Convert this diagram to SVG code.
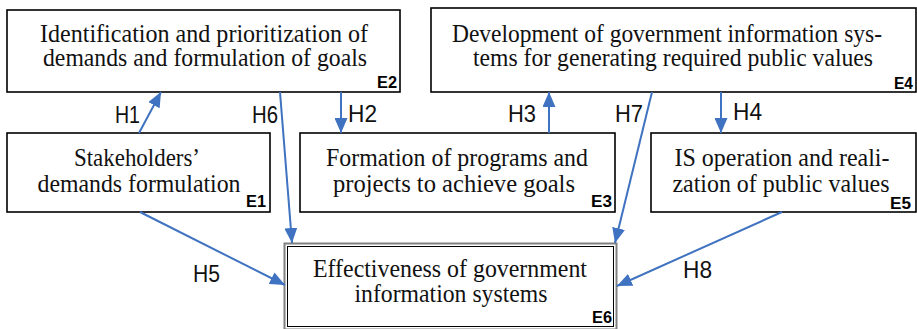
<svg xmlns="http://www.w3.org/2000/svg" width="917" height="329" viewBox="0 0 917 329">
<style>
.box{fill:#fff;stroke:#000;stroke-width:1.6}
.t{font-family:"Liberation Serif","Times New Roman",serif;font-size:25px;fill:#111;text-anchor:middle}
.e{font-family:"Liberation Sans",Arial,sans-serif;font-size:17px;font-weight:bold;fill:#000}
.h{font-family:"Liberation Sans",Arial,sans-serif;font-size:24px;fill:#111}
.c{stroke:#3F72C0;stroke-width:2;fill:none;marker-end:url(#ah)}
</style>
<defs>
<marker id="ah" markerUnits="userSpaceOnUse" markerWidth="15" markerHeight="13" refX="15" refY="6.5" orient="auto">
<path d="M0,0 L15,6.5 L0,13 z" fill="#3F72C0"/>
</marker>
</defs>
<rect width="917" height="329" fill="#fff"/>
<g id="E2">
<rect class="box" x="7" y="10" width="393" height="82"/>
<text class="t" x="204" y="42" textLength="328" lengthAdjust="spacingAndGlyphs">Identification and prioritization of</text>
<text class="t" x="205" y="66" textLength="324" lengthAdjust="spacingAndGlyphs">demands and formulation of goals</text>
<text class="e" x="377" y="88" textLength="20" lengthAdjust="spacingAndGlyphs">E2</text>
</g>
<g id="E4">
<rect class="box" x="431" y="8" width="485" height="84"/>
<text class="t" x="667" y="42" textLength="430" lengthAdjust="spacingAndGlyphs">Development of government information sys-</text>
<text class="t" x="673" y="66" textLength="400" lengthAdjust="spacingAndGlyphs">tems for generating required public values</text>
<text class="e" x="894" y="89" textLength="19" lengthAdjust="spacingAndGlyphs">E4</text>
</g>
<g id="E1">
<rect class="box" x="7" y="133" width="263" height="79"/>
<text class="t" x="137" y="166" textLength="126" lengthAdjust="spacingAndGlyphs">Stakeholders’</text>
<text class="t" x="139" y="192" textLength="203" lengthAdjust="spacingAndGlyphs">demands formulation</text>
<text class="e" x="246" y="207" textLength="20" lengthAdjust="spacingAndGlyphs">E1</text>
</g>
<g id="E3">
<rect class="box" x="300" y="133" width="315" height="79"/>
<text class="t" x="457" y="166" textLength="262" lengthAdjust="spacingAndGlyphs">Formation of programs and</text>
<text class="t" x="454" y="192" textLength="242" lengthAdjust="spacingAndGlyphs">projects to achieve goals</text>
<text class="e" x="591" y="207" textLength="21" lengthAdjust="spacingAndGlyphs">E3</text>
</g>
<g id="E5">
<rect class="box" x="651" y="133" width="265" height="79"/>
<text class="t" x="782" y="166" textLength="215" lengthAdjust="spacingAndGlyphs">IS operation and reali-</text>
<text class="t" x="781" y="192" textLength="217" lengthAdjust="spacingAndGlyphs">zation of public values</text>
<text class="e" x="890" y="209" textLength="21" lengthAdjust="spacingAndGlyphs">E5</text>
</g>
<g id="E6">
<rect x="284.5" y="243.5" width="332" height="86" fill="#fff" stroke="#808080" stroke-width="2"/>
<rect x="287.5" y="246.5" width="326" height="80" fill="none" stroke="#000" stroke-width="1"/>
<text class="t" x="450" y="277" textLength="274" lengthAdjust="spacingAndGlyphs">Effectiveness of government</text>
<text class="t" x="451" y="302" textLength="193" lengthAdjust="spacingAndGlyphs">information systems</text>
<text class="e" x="592" y="323" textLength="20" lengthAdjust="spacingAndGlyphs">E6</text>
</g>
<g id="connectors">
<line class="c" x1="139" y1="133" x2="161" y2="92"/>
<line class="c" x1="341" y1="92" x2="341" y2="133"/>
<line class="c" x1="549" y1="133" x2="549" y2="92"/>
<line class="c" x1="721" y1="92" x2="721" y2="133"/>
<line class="c" x1="140" y1="212" x2="285" y2="285"/>
<line class="c" x1="280" y1="92" x2="292" y2="243"/>
<line class="c" x1="652" y1="92" x2="615" y2="243"/>
<line class="c" x1="782" y1="212" x2="617" y2="286"/>
</g>
<g id="labels">
<text class="h" x="115" y="123" textLength="25" lengthAdjust="spacingAndGlyphs">H1</text>
<text class="h" x="252" y="123" textLength="26" lengthAdjust="spacingAndGlyphs">H6</text>
<text class="h" x="348" y="122" textLength="29" lengthAdjust="spacingAndGlyphs">H2</text>
<text class="h" x="508" y="122" textLength="28" lengthAdjust="spacingAndGlyphs">H3</text>
<text class="h" x="615" y="122" textLength="28" lengthAdjust="spacingAndGlyphs">H7</text>
<text class="h" x="733" y="120" textLength="29" lengthAdjust="spacingAndGlyphs">H4</text>
<text class="h" x="193" y="282" textLength="27" lengthAdjust="spacingAndGlyphs">H5</text>
<text class="h" x="683" y="278" textLength="29" lengthAdjust="spacingAndGlyphs">H8</text>
</g>
</svg>
